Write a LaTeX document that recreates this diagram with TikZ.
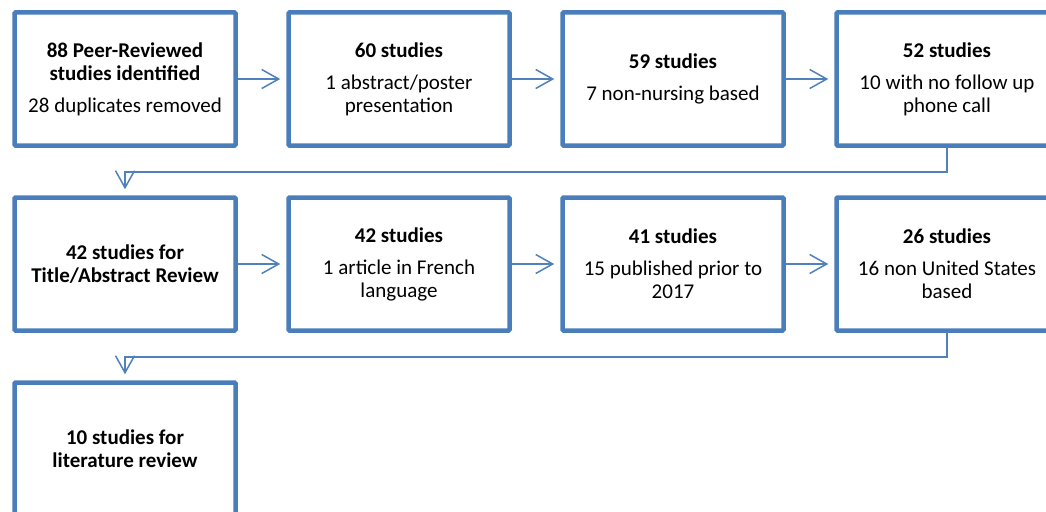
\documentclass[tikz,border=0pt]{standalone}
\usepackage{fontspec}
\setmainfont{Carlito}
\usepackage{tikz}
\usepackage{xcolor}
\usetikzlibrary{arrows.meta}
\definecolor{boxblue}{RGB}{74,126,187}
\definecolor{lineblue}{RGB}{79,129,189}

\begin{document}
\begin{tikzpicture}[x=1pt,y=-1pt,
  box/.style={draw=boxblue,line width=4.5pt,rounded corners=1pt,fill=white,
    minimum width=221pt,minimum height=133pt,align=center,
    font=\fontsize{21}{23}\selectfont},
  conn/.style={draw=lineblue,line width=1.5pt,
    -{Straight Barb[length=17pt,width=19pt,line width=1.5pt]},shorten >=6pt}]
\clip (0,0) rectangle (1046,511);
\fill[white] (0,0) rectangle (1046,511);
\node[box] (b1) at (125,79) {\textbf{88 Peer-Reviewed}\\\textbf{studies identified}\\[9pt]28 duplicates removed};
\node[box] (b2) at (399,79) {\textbf{60 studies}\\[9pt]1 abstract/poster\\presentation};
\node[box] (b3) at (673,79) {\textbf{59 studies}\\[9pt]7 non-nursing based};
\node[box] (b4) at (947,79) {\textbf{52 studies}\\[9pt]10 with no follow up\\phone call};
\node[box] (b5) at (125,264) {\textbf{42 studies for}\\\textbf{Title/Abstract Review}};
\node[box] (b6) at (399,264) {\textbf{42 studies}\\[9pt]1 article in French\\language};
\node[box] (b7) at (673,264) {\textbf{41 studies}\\[9pt]15 published prior to\\2017};
\node[box] (b8) at (947,264) {\textbf{26 studies}\\[9pt]16 non United States\\based};
\node[box] (b9) at (125,449) {\textbf{10 studies for}\\\textbf{literature review}};
\draw[conn] (b1) -- (b2);
\draw[conn] (b2) -- (b3);
\draw[conn] (b3) -- (b4);
\draw[conn] (b4.south) -- ++(0,24) -| (b5.north);
\draw[conn] (b5) -- (b6);
\draw[conn] (b6) -- (b7);
\draw[conn] (b7) -- (b8);
\draw[conn] (b8.south) -- ++(0,24) -| (b9.north);
\end{tikzpicture}
\end{document}
